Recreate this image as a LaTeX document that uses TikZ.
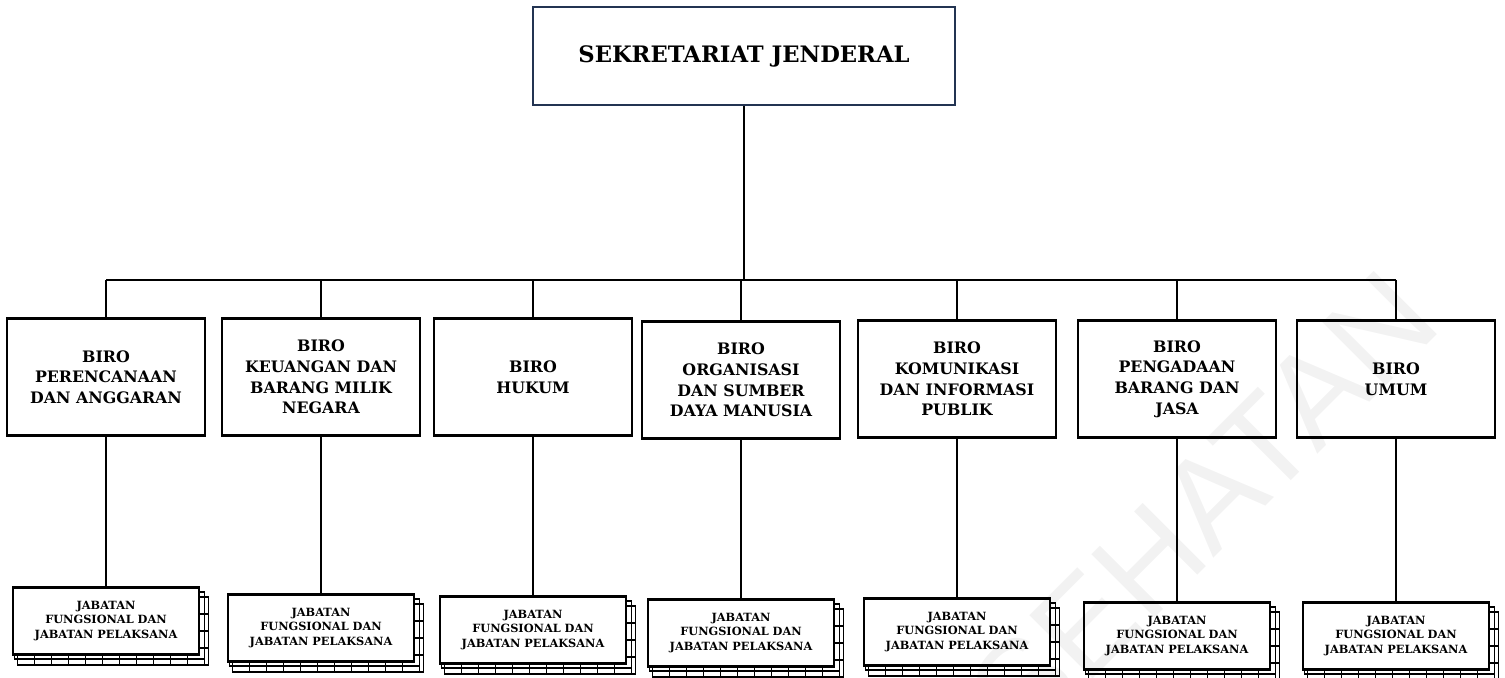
\documentclass[tikz,border=0pt]{standalone}
\usepackage{fontspec}
\setmainfont{DejaVu Serif}
\setsansfont{Liberation Sans}
\usetikzlibrary{calc,positioning,backgrounds}
\definecolor{navy}{RGB}{35,52,82}

% stacked sheets behind a jabatan box
\newcommand{\jabback}[1]{%
  \begin{scope}[on background layer]
    \draw[sheet] ($(#1.north west)+(6,11)$) rectangle ($(#1.south east)+(8,9)$);
    \draw[sheet] ($(#1.north west)+(3,6)$) rectangle ($(#1.south east)+(4,3)$);
    \foreach \i in {0,...,11}
      \draw[tick] ($(#1.south west)+(6+17*\i,0)$) -- ++(0,9);
    \foreach \j in {0,...,3}
      \draw[tick] ($(#1.north east)+(0,11+17*\j)$) -- ++(8,0);
  \end{scope}}

\begin{document}
\begin{tikzpicture}
[x=0.02cm, y=-0.02cm, line width=1.5pt, font=\bfseries]
\tikzstyle{top}=[rectangle, draw=navy, line width=1.6pt, fill=white, minimum width=422*0.02cm, minimum height=98*0.02cm, font=\fontsize{12.9}{15}\selectfont\bfseries]
\tikzstyle{biro}=[rectangle, draw, line width=1.5pt, fill=white, minimum width=198*0.02cm, minimum height=117*0.02cm, align=center, font=\fontsize{9}{11.8}\selectfont\bfseries]
\tikzstyle{jab}=[rectangle, draw, line width=1.5pt, fill=white, minimum width=186*0.02cm, minimum height=67*0.02cm, align=center, font=\fontsize{6.45}{8}\selectfont\bfseries]
\tikzstyle{sheet}=[draw, fill=white, line width=0.9pt]
\tikzstyle{tick}=[line width=0.8pt]
\tikzstyle{link}=[line width=1.5pt]
\tikzstyle{wmark}=[rotate=45, anchor=base east, text=black, text opacity=0.05, font=\fontsize{74}{76}\selectfont\sffamily]

\useasboundingbox (0,0) rectangle (1505,678);

\node[top] (sekjen) at (744,56) {SEKRETARIAT JENDERAL};

\node[biro] (biro_1) at (106,377) {BIRO\\PERENCANAAN\\DAN ANGGARAN};
\node[biro] (biro_2) at (321,377) {BIRO\\KEUANGAN DAN\\BARANG MILIK\\NEGARA};
\node[biro] (biro_3) at (533,377) {BIRO\\HUKUM};
\node[biro] (biro_4) at (741,380) {BIRO\\ORGANISASI\\DAN SUMBER\\DAYA MANUSIA};
\node[biro] (biro_5) at (957,379) {BIRO\\KOMUNIKASI\\DAN INFORMASI\\PUBLIK};
\node[biro] (biro_6) at (1177,379) {BIRO\\PENGADAAN\\BARANG DAN\\JASA};
\node[biro] (biro_7) at (1396,379) {BIRO\\UMUM};

\node[jab] (jab_1) at (106,621) {JABATAN\\FUNGSIONAL DAN\\JABATAN PELAKSANA};
\node[jab] (jab_2) at (321,628) {JABATAN\\FUNGSIONAL DAN\\JABATAN PELAKSANA};
\node[jab] (jab_3) at (533,630) {JABATAN\\FUNGSIONAL DAN\\JABATAN PELAKSANA};
\node[jab] (jab_4) at (741,633) {JABATAN\\FUNGSIONAL DAN\\JABATAN PELAKSANA};
\node[jab] (jab_5) at (957,632) {JABATAN\\FUNGSIONAL DAN\\JABATAN PELAKSANA};
\node[jab] (jab_6) at (1177,636) {JABATAN\\FUNGSIONAL DAN\\JABATAN PELAKSANA};
\node[jab] (jab_7) at (1396,636) {JABATAN\\FUNGSIONAL DAN\\JABATAN PELAKSANA};

\foreach \n in {1,...,7} {\jabback{jab_\n}}

\coordinate (bus) at (744,280);

\path[link]
			(sekjen.south) 	edge (bus)
			(biro_1.north |- bus) edge (biro_7.north |- bus)
			;
\foreach \n in {1,...,7} {
  \draw[link] (biro_\n.north |- bus) -- (biro_\n.north);
  \draw[link] (biro_\n.south) -- (jab_\n.north);
}

% watermark
\begin{scope}
\clip (0,0) rectangle (1505,678);
\node[wmark] (wm) at (1450,322) {KESEHATAN};
\end{scope}
\end{tikzpicture}
\end{document}
